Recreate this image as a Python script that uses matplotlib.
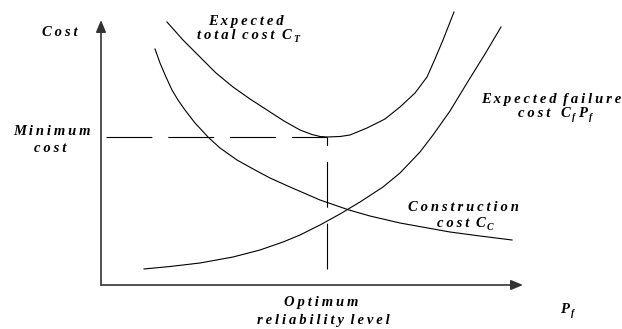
import matplotlib
matplotlib.use("Agg")
from matplotlib import pyplot as plt

plt.rcParams['lines.scale_dashes'] = False

# Curves, in arbitrary units (x = P_f, y = cost)
construction_x = [54, 59, 65, 71, 77, 84, 94, 107, 119, 136, 154, 169, 189, 219, 248, 269, 299, 349, 379, 411]
construction_y = [236, 222, 208, 195, 185, 175, 162, 148, 137, 125, 115, 107, 98, 85, 75, 69, 62, 53, 49, 45]

total_x = [66, 82, 99, 115, 132, 149, 166, 183, 199, 211, 219, 226, 239, 249, 266, 284, 299, 314, 326, 334, 342, 353]
total_y = [263, 245, 228, 212, 198, 186, 175, 164, 155, 150.5, 148.5, 148, 148.5, 150, 157, 166, 178, 192, 208, 226, 245, 273]

failure_x = [43, 69, 99, 132, 159, 182, 199, 219, 239, 259, 282, 299, 319, 332, 349, 366, 384, 400]
failure_y = [16, 18.5, 22, 28, 35, 43, 50, 60, 71, 83, 98, 112, 133, 150, 174, 202, 231, 258]

# Optimum point and where the guides start
x_opt = 226
c_min = 148
guide_x0 = 5
guide_y0 = 16

W, H = 622, 329
fig = plt.figure(figsize=(W / 100, H / 100), dpi=100)
ax = fig.add_axes([101 / W, (H - 285) / H, 422 / W, 265 / H])
ax.set_xlim(0, 422)
ax.set_ylim(0, 265)
ax.axis('off')

lw = 0.8
for xs, ys in [(construction_x, construction_y), (total_x, total_y), (failure_x, failure_y)]:
    ax.plot(xs, ys, color='black', lw=lw, clip_on=False, solid_joinstyle='round')

# dashed guides (the vertical one is drawn from the bottom up)
ax.plot([guide_x0, x_opt], [c_min, c_min], color='black', lw=lw,
        linestyle=(0, (33, 11.5)), clip_on=False)
ax.plot([x_opt, x_opt], [guide_y0, c_min], color='black', lw=lw,
        linestyle=(0, (33, 11.5)), clip_on=False)

# axes with arrows
arrow = dict(arrowstyle='-|>,head_length=0.6,head_width=0.25', color='#333333',
             lw=1.2, shrinkA=0, shrinkB=0, mutation_scale=12)
ax.annotate('', xy=(1, 0), xytext=(0, 0), xycoords='axes fraction', arrowprops=arrow)
ax.annotate('', xy=(0, 1), xytext=(0, 0), xycoords='axes fraction', arrowprops=arrow)


def spaced(s):
    return '\u2009 '.join('\u2009'.join(w) for w in s.split(' '))


font = dict(family=['Liberation Serif', 'DejaVu Serif'], weight='bold', style='italic')
renderer = fig.canvas.get_renderer()


def label(x, y, parts, ha='center'):
    # parts: (text, is_subscript, gap before in px)
    items = []
    for s, sub, gap in parts:
        t = fig.text(0, 0, s, va='baseline', size=7 if sub else 10.5, **font)
        items.append((t, sub, gap, t.get_window_extent(renderer).width))
    total = sum(g + w for _, _, g, w in items)
    x0 = x - total / 2 if ha == 'center' else x
    for t, sub, gap, w in items:
        x0 += gap
        t.set_position((x0 / W, 1 - (y + (3 if sub else 0)) / H))
        x0 += w


label(60, 36, [(spaced('Cost'), False, 0)])
label(246, 25, [(spaced('Expected'), False, 0)])
label(248, 39, [(spaced('total cost'), False, 0), ('C', False, 7), ('T', True, 2)])
label(52, 135, [(spaced('Minimum'), False, 0)])
label(50, 152, [(spaced('cost'), False, 0)])
label(551, 103, [(spaced('Expected failure'), False, 0)])
label(555, 117, [(spaced('cost'), False, 0), ('C', False, 10), ('f', True, 2),
                 ('P', False, 3), ('f', True, 2)])
label(463, 211, [(spaced('Construction'), False, 0)])
label(465, 227, [(spaced('cost'), False, 0), ('C', False, 6), ('C', True, 2)])
label(321, 306, [(spaced('Optimum'), False, 0)])
label(323, 324, [(spaced('reliability level'), False, 0)])
label(560, 313, [('P', False, 0), ('f', True, 2)], ha='left')

fig.savefig('out.png', dpi=100)
